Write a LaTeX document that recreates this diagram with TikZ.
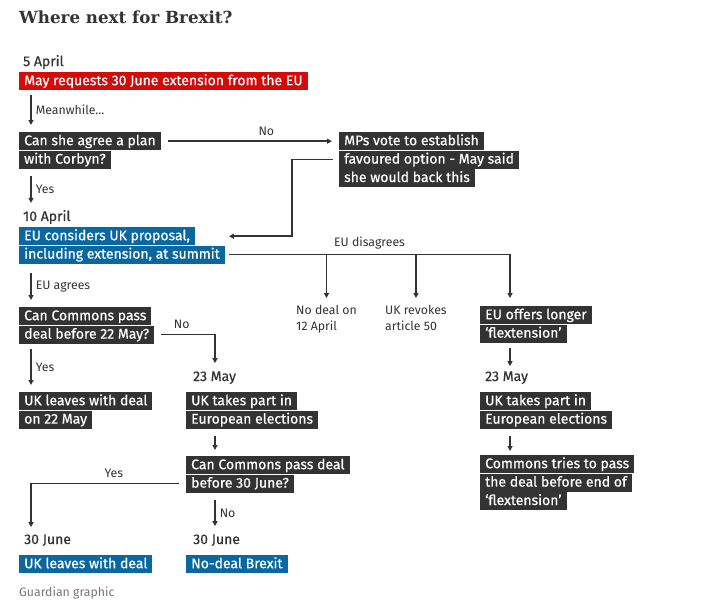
\documentclass[tikz,border=0pt]{standalone}
\usepackage{fontspec}
\setmainfont{Fira Sans}
\newfontfamily\boxfont[FakeBold=0.6]{Fira Sans}
\newfontfamily\headfont{DejaVu Serif}
\usetikzlibrary{arrows.meta}
\definecolor{gred}{HTML}{D70A0A}
\definecolor{gblue}{HTML}{0A67A0}
\definecolor{gdark}{HTML}{333333}
\definecolor{ggrey}{HTML}{767676}
\tikzset{
  hl/.style={anchor=north west, inner xsep=5pt, inner ysep=0pt, text height=13pt, text depth=5pt, text=white, font=\boxfont\fontsize{14}{16}\selectfont},
  dk/.style={hl, fill=gdark},
  rd/.style={hl, fill=gred},
  bl/.style={hl, fill=gblue},
  dayl/.style={anchor=base west, inner sep=0pt, text=gdark, font=\boxfont\fontsize{14}{16}\selectfont},
  note/.style={inner sep=0pt, text=gdark, font=\fontsize{12.3}{16}\selectfont},
  arr/.style={draw=gdark, line width=1.5pt, -{Triangle[length=5pt,width=5pt]}},
}
\begin{document}
\begin{tikzpicture}[x=1pt,y=-1pt]
\useasboundingbox (0,0) rectangle (706,606);
\node[anchor=base west, inner sep=0pt, text=gdark, font=\headfont\bfseries\fontsize{16.7}{20}\selectfont] (title) at (19,23) {Where next for Brexit?};

\node[dayl] (d5apr) at (23,66) {5 April};
\node[rd] (req) at (19,72) {May requests 30 June extension from the EU};

\node[dk] (plan1) at (19,132) {Can she agree a plan};
\node[dk] (plan2) at (plan1.south west) {with Corbyn?};

\node[dk] (mps1) at (339,132) {MPs vote to establish};
\node[dk] (mps2) at (mps1.south west) {favoured option - May said};
\node[dk] (mps3) at (mps2.south west) {she would back this};

\node[dayl] (d10apr) at (23,221) {10 April};
\node[bl] (eu1) at (19,227) {EU considers UK proposal,};
\node[bl] (eu2) at (eu1.south west) {including extension, at summit};

\node[note, anchor=north west, align=left] (nodeal) at (296,305) {No deal on\\12 April};
\node[note, anchor=north west, align=left] (revoke) at (385,305) {UK revokes\\article 50};
\node[dk] (flex1) at (480,306) {EU offers longer};
\node[dk] (flex2) at (flex1.south west) {‘flextension’};

\node[dk] (cc1) at (19,307) {Can Commons pass};
\node[dk] (cc2) at (cc1.south west) {deal before 22 May?};

\node[dayl] (d23may) at (193,381) {23 May};
\node[dk] (ep1) at (186,392) {UK takes part in};
\node[dk] (ep2) at (ep1.south west) {European elections};

\node[dk] (leave1) at (19,392) {UK leaves with deal};
\node[dk] (leave2) at (leave1.south west) {on 22 May};

\node[dayl] (d23mayb) at (485,381) {23 May};
\node[dk] (epb1) at (480,392) {UK takes part in};
\node[dk] (epb2) at (epb1.south west) {European elections};

\node[dk] (ct1) at (480,455) {Commons tries to pass};
\node[dk] (ct2) at (ct1.south west) {the deal before end of};
\node[dk] (ct3) at (ct2.south west) {‘flextension’};

\node[dk] (cc301) at (186,456) {Can Commons pass deal};
\node[dk] (cc302) at (cc301.south west) {before 30 June?};

\node[dayl] (d30junea) at (24,544) {30 June};
\node[dayl] (d30juneb) at (193,544) {30 June};
\node[bl] (leavejun) at (19,555) {UK leaves with deal};
\node[bl] (nodealjun) at (186,555) {No-deal Brexit};

\node[note, anchor=base west, text=ggrey] (credit) at (19,596) {Guardian graphic};

\draw[arr] ([xshift=12pt,yshift=-5pt]req.south west) -- ([xshift=12pt,yshift=7pt]plan1.north west) node[note, midway, right=4pt] {Meanwhile...};
\draw[arr] ([xshift=7pt]plan1.east) -- ([xshift=-7pt]mps1.west) node[note, pos=0.6, above=5pt] {No};
\draw[arr] ([xshift=-6pt]mps2.west) -- ++(-41,0) |- ([xshift=4pt]eu2.east |- eu1.east);
\draw[arr] ([xshift=12pt,yshift=-7pt]plan2.south west) -- ([xshift=8pt,yshift=7pt]d10apr.north west) node[note, midway, right=4pt] {Yes};
\draw[arr] ([xshift=12pt,yshift=-9pt]eu2.south west) -- ([xshift=12pt,yshift=7pt]cc1.north west) node[note, midway, right=4pt] {EU agrees};
\draw[arr] ([xshift=4pt]eu2.east) -| ([xshift=30pt,yshift=8pt]flex1.north west) node[note, pos=0.25, above=5pt] {EU disagrees};
\draw[arr] (nodeal.north |- eu2.east) -- ([yshift=7pt]nodeal.north);
\draw[arr] (revoke.north |- eu2.east) -- ([yshift=7pt]revoke.north);
\draw[arr] ([xshift=7pt]cc2.east) -| ([xshift=22pt,yshift=8pt]d23may.north west) node[note, pos=0.19, above=5pt] {No};
\draw[arr] ([xshift=12pt,yshift=-5pt]cc2.south west) -- ([xshift=12pt,yshift=7pt]leave1.north west) node[note, midway, right=4pt] {Yes};
\draw[arr] ([xshift=30pt,yshift=-5pt]flex2.south west) -- ([xshift=25pt,yshift=5pt]d23mayb.north west);
\draw[arr] ([xshift=30pt,yshift=-7pt]epb2.south west) -- ([xshift=30pt,yshift=4pt]ct1.north west);
\draw[arr] ([xshift=29pt,yshift=-7pt]ep2.south west) -- ([xshift=29pt,yshift=6pt]cc301.north west);
\draw[arr] ([xshift=-7pt]cc302.west) -| ([xshift=7pt,yshift=7pt]d30junea.north west) node[note, pos=0.22, above=5pt] {Yes};
\draw[arr] ([xshift=29pt,yshift=-7pt]cc302.south west) -- ([xshift=22pt,yshift=8pt]d30juneb.north west) node[note, midway, right=4pt] {No};
\end{tikzpicture}
\end{document}
